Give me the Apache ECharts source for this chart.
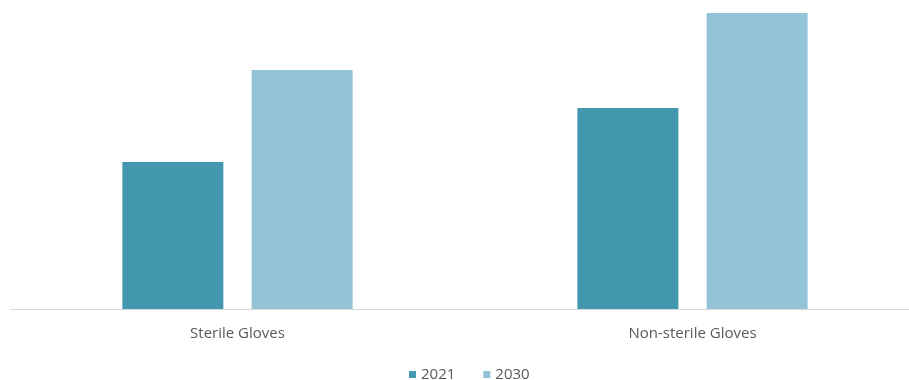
<!DOCTYPE html>
<html>
<head>
<meta charset="utf-8">
<script src="https://cdn.jsdelivr.net/npm/echarts@6/dist/echarts.min.js"></script>
<style>
    html, body { margin: 0; padding: 0; background: #fff; }
    #chart { width: 909px; height: 380px; }
</style>
</head>
<body>
<div id="chart"></div>
<script>
// 数据
var categories = ['Sterile Gloves', 'Non-sterile Gloves'];
var seriesNames = ['2021', '2030'];
var values2021 = [147, 201];
var values2030 = [239, 296];

var myChart = echarts.init(document.getElementById('chart'));

var option = {
    animation: false,
    color: ['#4398AF', '#93C3D5'],
    grid: {
        left: 10,
        width: 910,
        top: 9,
        height: 300,
        outerBoundsMode: 'none'
    },
    legend: {
        data: seriesNames,
        left: 404,
        top: 362,
        itemWidth: 7,
        itemHeight: 7,
        itemGap: 28,
        icon: 'rect',
        textStyle: {
            fontFamily: 'Open Sans',
            fontSize: 15,
            color: '#595959'
        }
    },
    xAxis: {
        type: 'category',
        data: categories,
        axisLine: { lineStyle: { color: '#D9D9D9', width: 1 } },
        axisTick: { show: false },
        axisLabel: {
            margin: 17,
            fontFamily: 'Open Sans',
            fontSize: 15,
            color: '#595959'
        }
    },
    yAxis: {
        type: 'value',
        min: 0,
        max: 300,
        show: false,
        splitLine: { show: false }
    },
    series: [
        {
            name: seriesNames[0],
            type: 'bar',
            barWidth: 101,
            barGap: '28%',
            data: values2021
        },
        {
            name: seriesNames[1],
            type: 'bar',
            barWidth: 101,
            barGap: '28%',
            data: values2030
        }
    ]
};

myChart.setOption(option);
</script>
</body>
</html>
